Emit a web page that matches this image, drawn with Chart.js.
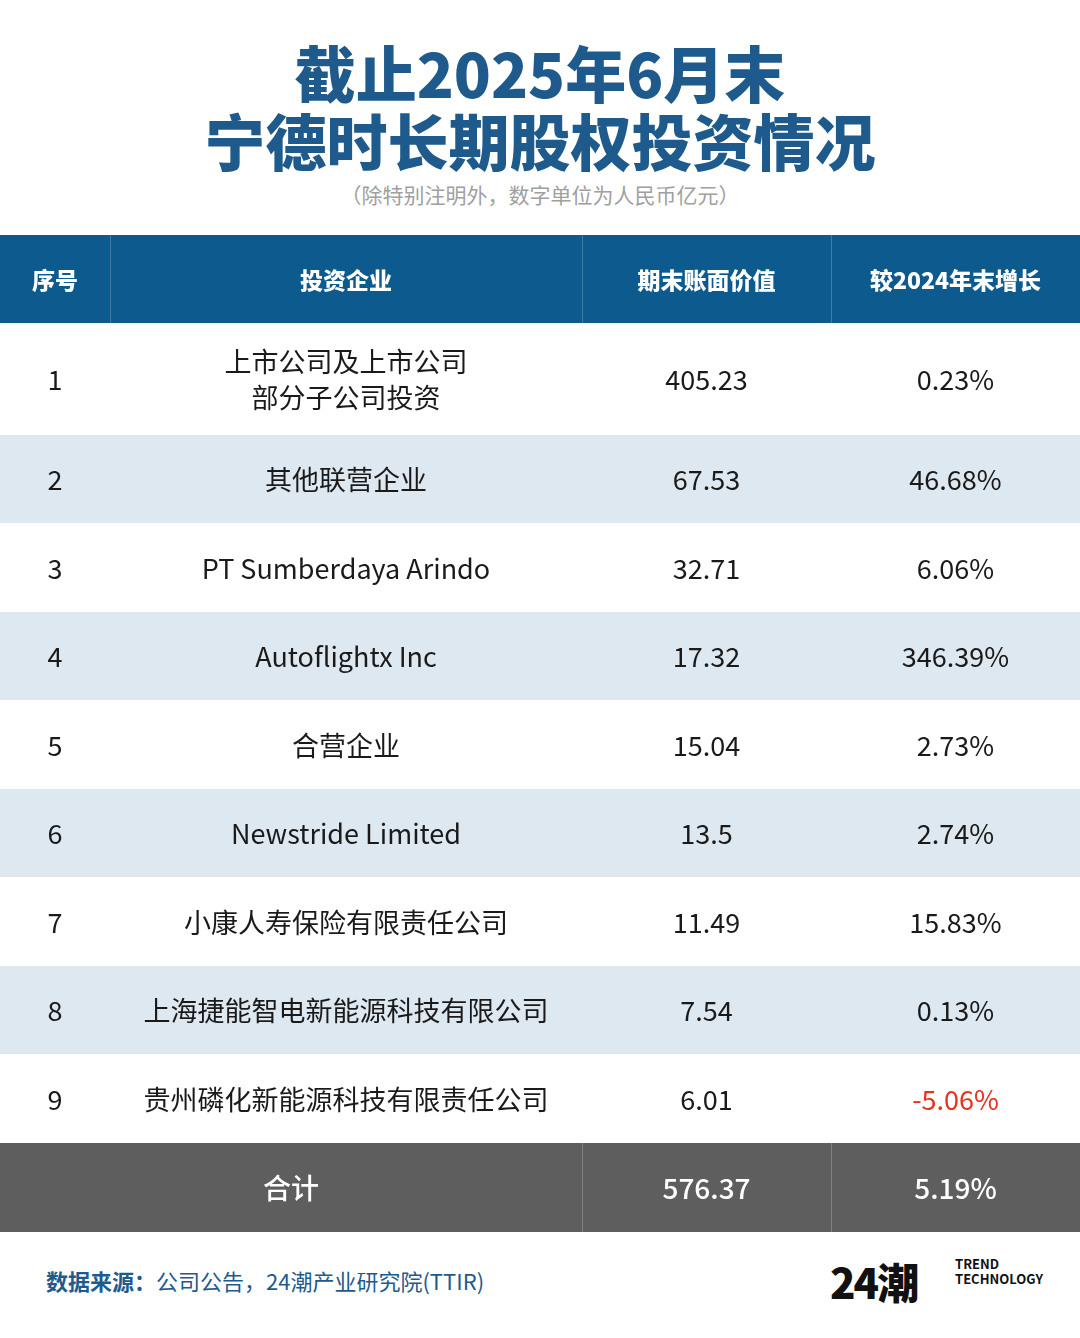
<!DOCTYPE html>
<html><head><meta charset="utf-8">
<script src="https://cdn.jsdelivr.net/npm/chart.js@4"></script>
<style>
body{margin:0;width:1080px;height:1338px;background:#fff;font-family:"Noto Sans CJK SC","Noto Sans",sans-serif;position:relative;overflow:hidden}
#t1,#t2{position:absolute;left:0;width:1080px;text-align:center;font-weight:900;color:#1e5a8c;font-size:61px;line-height:1}
#t1{top:41px}#t2{top:109px}
#sub{position:absolute;top:179px;left:0;width:1080px;text-align:center;color:#a0a0a0;font-size:21px}
#wrap{position:absolute;top:235px;left:0;width:1080px;height:997px}
#src{position:absolute;top:1264px;left:46px;font-size:22px;color:#1e5a8c}
#logo{position:absolute;top:1250px;left:830px;font-weight:900;font-size:42px;color:#111;letter-spacing:-2px}
#tt{position:absolute;top:1256px;left:955px;font-size:13px;font-weight:700;line-height:15px;color:#111}
</style></head><body>
<div id="t1">截止2025年6月末</div>
<div id="t2">宁德时长期股权投资情况</div>
<div id="sub">（除特别注明外，数字单位为人民币亿元）</div>
<div id="wrap"><canvas id="c" width="1080" height="997"></canvas></div>
<div id="src"><b>数据来源：</b>公司公告，24潮产业研究院(TTIR)</div>
<div id="logo">24潮</div>
<div id="tt">TREND<br>TECHNOLOGY</div>
<script>
const headers=["序号","投资企业","期末账面价值","较2024年末增长"];
const seq=["1","2","3","4","5","6","7","8","9"];
const companies=["上市公司及上市公司\n部分子公司投资","其他联营企业","PT Sumberdaya Arindo","Autoflightx Inc","合营企业","Newstride Limited","小康人寿保险有限责任公司","上海捷能智电新能源科技有限公司","贵州磷化新能源科技有限责任公司"];
const bookValues=["405.23","67.53","32.71","17.32","15.04","13.5","11.49","7.54","6.01"];
const growth=["0.23%","46.68%","6.06%","346.39%","2.73%","2.74%","15.83%","0.13%","-5.06%"];
const totalLabel="合计",totalValue="576.37",totalGrowth="5.19%";
const colEdges=[0,110,582,831,1080];
const rowEdges=[0,88,200,288,377,465,554,642,731,819,908,997];

const tablePlugin={id:'table',afterDraw(chart){
 const {ctx,scales:{x,y}}=chart;
 const X=v=>x.getPixelForValue(v),Y=v=>y.getPixelForValue(v);
 const nRows=rowEdges.length-1;
 for(let r=0;r<nRows;r++){
  const top=Y(rowEdges[r]),bot=Y(rowEdges[r+1]);
  let bg='#ffffff',fg='#1a1a1a',font='27px "Noto Sans CJK SC"',cells;
  if(r===0){bg='#0d5b8e';fg='#fff';font='900 23px "Noto Sans CJK SC"';cells=headers;}
  else if(r===nRows-1){bg='#5e5e5e';fg='#fff';font='500 28px "Noto Sans CJK SC"';cells=[totalLabel,null,totalValue,totalGrowth];}
  else{const i=r-1;bg=(i%2===1)?'#dde8f1':'#ffffff';cells=[seq[i],companies[i],bookValues[i],growth[i]];}
  ctx.fillStyle=bg;ctx.fillRect(X(0),top,X(1080)-X(0),bot-top);
  if(r===0||r===nRows-1){
   ctx.strokeStyle=r===0?'#3f7ba6':'#808080';ctx.lineWidth=1;
   const seps=r===0?[1,2,3]:[2,3];
   seps.forEach(k=>{ctx.beginPath();ctx.moveTo(X(colEdges[k])+.5,top);ctx.lineTo(X(colEdges[k])+.5,bot);ctx.stroke();});
  }
  ctx.textAlign='center';ctx.textBaseline='middle';ctx.font=font;
  const cy=(top+bot)/2+1;
  cells.forEach((t,k)=>{
   if(t==null)return;
   let cx=(X(colEdges[k])+X(colEdges[k+1]))/2;
   if(r===nRows-1&&k===0)cx=(X(colEdges[0])+X(colEdges[2]))/2;
   ctx.fillStyle=(r>0&&r<nRows-1&&k===3&&t.startsWith('-'))?'#e8321e':fg;
   const lines=t.split('\n');
   lines.forEach((ln,li)=>ctx.fillText(ln,cx,cy+(li-(lines.length-1)/2)*36));
  });
 }
}};
new Chart(document.getElementById('c'),{type:'scatter',data:{datasets:[{data:[]}]},
 options:{responsive:false,animation:false,layout:{padding:0},
 plugins:{legend:{display:false},tooltip:{enabled:false}},
 scales:{x:{type:'linear',min:0,max:1080,display:false},y:{type:'linear',min:0,max:997,reverse:true,display:false}}},
 plugins:[tablePlugin]});
</script></body></html>
